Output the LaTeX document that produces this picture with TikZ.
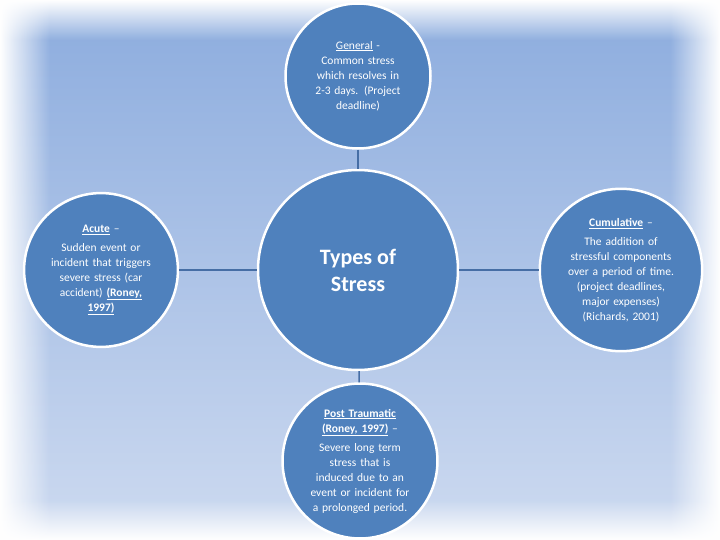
\documentclass[tikz,border=0pt]{standalone}
\usepackage{fontspec}
\setmainfont{Carlito}
\usetikzlibrary{fadings}
\begin{document}
\begin{tikzpicture}[x=1pt,y=-1pt,
  circ/.style={circle,fill=blue1,draw=white,line width=2.5pt,text=white,align=center,inner sep=0pt,font=\fontsize{11.5}{15}\selectfont},
  conn/.style={draw=lineblue,line width=1.5pt}]
\definecolor{blue1}{RGB}{79,129,189}
\definecolor{lineblue}{RGB}{70,110,165}
\definecolor{bgtop}{RGB}{140,172,222}
\definecolor{bgbot}{RGB}{205,218,240}
\useasboundingbox (0,0) rectangle (720,540);
\shade[top color=bgtop,bottom color=bgbot] (0,0) rectangle (720,540);
\fill[white,path fading=east] (0,0) rectangle (50,540);
\fill[white,path fading=west] (670,0) rectangle (720,540);
\fill[white,path fading=south] (0,0) rectangle (720,40);
\fill[white,path fading=north] (0,500) rectangle (720,540);
\node[circ,minimum size=200pt,font=\fontsize{22}{27}\selectfont\bfseries] (c) at (358,270) {Types of\\Stress};
\node[circ,minimum size=145pt,text width=100pt] (t) at (358,76) {\underline{General} -\\Common stress\\which resolves in\\2-3 days. (Project\\deadline)};
\node[circ,minimum size=145pt,text width=115pt] (b) at (360,461) {\underline{\textbf{Post Traumatic}}\\\underline{\textbf{(Roney, 1997)}} --\\[4pt]Severe long term\\stress that is\\induced due to an\\event or incident for\\a prolonged period.};
\node[circ,minimum size=145pt,text width=125pt] (l) at (101,270) {\underline{\textbf{Acute}} --\\[4pt]Sudden event or\\incident that triggers\\severe stress (car\\accident) \underline{\textbf{(Roney,}}\\\underline{\textbf{1997)}}};
\node[circ,minimum size=145pt,text width=125pt] (r) at (621,270) {\underline{\textbf{Cumulative}} --\\[4pt]The addition of\\stressful components\\over a period of time.\\(project deadlines,\\major expenses)\\(Richards, 2001)};
\draw[conn] (t) -- (c);
\draw[conn] (c) -- (b);
\draw[conn] (l) -- (c);
\draw[conn] (c) -- (r);
\end{tikzpicture}
\end{document}
